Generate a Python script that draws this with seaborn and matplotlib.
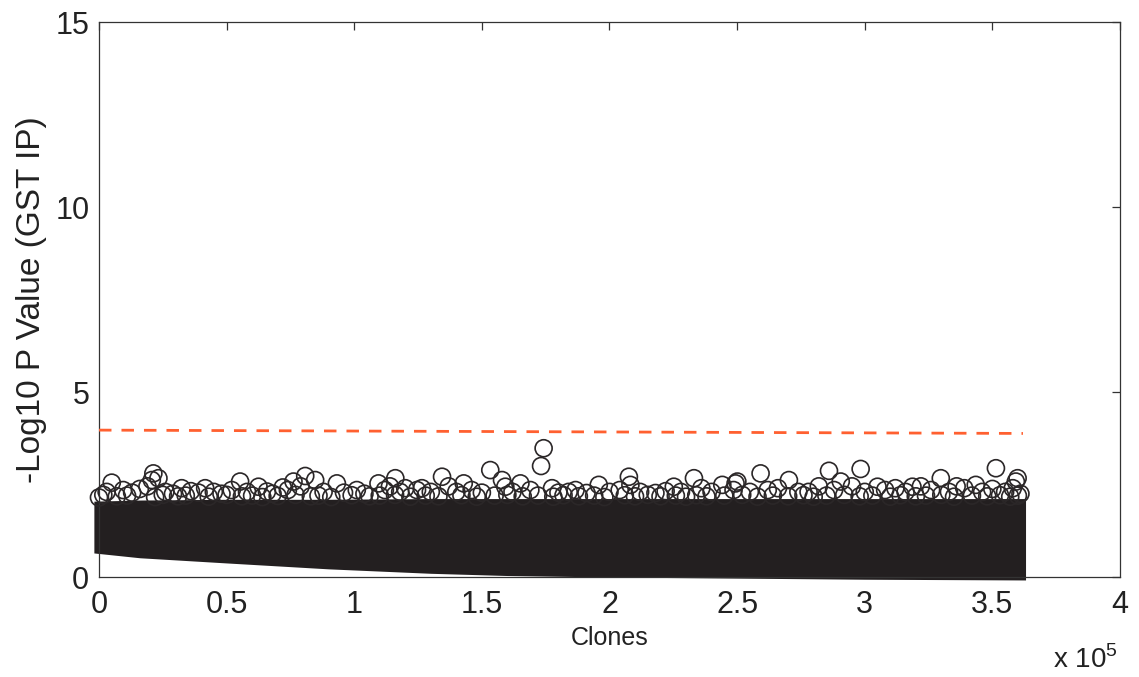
import numpy as np
import pandas as pd
import seaborn as sns
import matplotlib
matplotlib.use("Agg")
import matplotlib.pyplot as plt

# ---- data (x in units of 1e5 clones) ----
# dense band of points: envelope
BAND_X = [-0.02, 0.16, 0.5, 0.9, 1.3, 1.6, 2.0, 2.5, 3.0, 3.63]
BAND_LOW = [0.65, 0.52, 0.38, 0.22, 0.10, 0.04, 0.0, -0.03, -0.06, -0.08]
BAND_TOP = [2.05, 2.08, 2.10, 2.10, 2.12, 2.12, 2.12, 2.12, 2.12, 2.12]

# individual circles visible above the band
FRINGE_X = [
    0.017, 0.05, 0.095, 0.207, 0.213, 0.233, 0.324, 0.416, 0.553, 0.625,
    0.658, 0.762, 0.808, 0.847, 0.932, 1.01, 1.095, 1.161, 1.2, 1.246,
    1.265, 1.344, 1.429, 1.533, 1.579, 1.592, 1.651, 1.732, 1.742, 1.775,
    1.867, 1.958, 2.076, 2.082, 2.252, 2.331, 2.442, 2.486, 2.494, 2.501,
    2.592, 2.703, 2.86, 2.906, 2.984, 3.05, 3.187, 3.298, 3.39, 3.435,
    3.514, 3.592, 3.599,
    0.03, 0.13, 0.16, 0.19, 0.26, 0.29, 0.36, 0.39, 0.45, 0.48,
    0.52, 0.58, 0.68, 0.72, 0.74, 0.79, 0.88, 0.96, 1.04, 1.12,
    1.14, 1.18, 1.3, 1.37, 1.4, 1.46, 1.5, 1.62, 1.69, 1.8,
    1.84, 1.91, 2.0, 2.04, 2.12, 2.18, 2.22, 2.28, 2.36, 2.4,
    2.55, 2.62, 2.66, 2.74, 2.78, 2.82, 2.88, 2.95, 3.0, 3.08,
    3.12, 3.16, 3.22, 3.26, 3.33, 3.36, 3.46, 3.5, 3.55, 3.58,
    3.61,
    0.0, 0.07, 0.11, 0.22, 0.25, 0.31, 0.34, 0.43, 0.5, 0.56,
    0.6, 0.64, 0.7, 0.77, 0.83, 0.86, 0.91, 0.99, 1.06, 1.1,
    1.16, 1.22, 1.28, 1.33, 1.42, 1.48, 1.55, 1.6, 1.66, 1.72,
    1.78, 1.82, 1.88, 1.94, 1.98, 2.06, 2.1, 2.15, 2.2, 2.26,
    2.3, 2.34, 2.38, 2.45, 2.52, 2.58, 2.64, 2.7, 2.76, 2.8,
    2.85, 2.92, 2.98, 3.03, 3.1, 3.14, 3.2, 3.24, 3.3, 3.35,
    3.42, 3.48, 3.53, 3.57, 3.6,
]
FRINGE_Y = [
    2.22, 2.55, 2.35, 2.62, 2.80, 2.67, 2.40, 2.40, 2.58, 2.44,
    2.31, 2.58, 2.73, 2.62, 2.53, 2.35, 2.53, 2.67, 2.40, 2.35,
    2.40, 2.71, 2.53, 2.89, 2.62, 2.44, 2.53, 3.00, 3.48, 2.40,
    2.35, 2.49, 2.71, 2.49, 2.44, 2.67, 2.49, 2.35, 2.53, 2.58,
    2.80, 2.62, 2.87, 2.58, 2.92, 2.44, 2.44, 2.67, 2.40, 2.49,
    2.94, 2.58, 2.67,
    2.30, 2.28, 2.38, 2.45, 2.30, 2.25, 2.32, 2.28, 2.30, 2.25,
    2.35, 2.30, 2.25, 2.42, 2.35, 2.45, 2.30, 2.28, 2.25, 2.35,
    2.45, 2.30, 2.30, 2.45, 2.30, 2.35, 2.28, 2.30, 2.35, 2.28,
    2.30, 2.27, 2.30, 2.35, 2.30, 2.27, 2.32, 2.30, 2.40, 2.30,
    2.30, 2.35, 2.40, 2.30, 2.30, 2.45, 2.35, 2.45, 2.30, 2.35,
    2.40, 2.30, 2.45, 2.35, 2.30, 2.45, 2.30, 2.38, 2.30, 2.40,
    2.25,
    2.15, 2.18, 2.20, 2.16, 2.22, 2.18, 2.20, 2.17, 2.22, 2.18,
    2.20, 2.16, 2.19, 2.22, 2.18, 2.20, 2.16, 2.21, 2.18, 2.20,
    2.22, 2.17, 2.20, 2.18, 2.21, 2.17, 2.20, 2.22, 2.18, 2.20,
    2.17, 2.21, 2.18, 2.20, 2.16, 2.21, 2.18, 2.22, 2.18, 2.20,
    2.17, 2.21, 2.18, 2.20, 2.22, 2.17, 2.20, 2.18, 2.21, 2.17,
    2.20, 2.22, 2.18, 2.20, 2.17, 2.21, 2.18, 2.20, 2.22, 2.17,
    2.20, 2.18, 2.21, 2.17, 2.20,
]

# significance threshold line
THRESH_X = [0.0, 3.62]
THRESH_Y = [3.97, 3.88]

X_TICKS = [0, 0.5, 1, 1.5, 2, 2.5, 3, 3.5, 4]
X_TICKLABELS = ["0", "0.5", "1", "1.5", "2", "2.5", "3", "3.5", "4"]
Y_TICKS = [0, 5, 10, 15]

DOT = "#231f20"
RED = "#ff6030"
TXT = "#222222"

sns.set_theme(style="white")
plt.rcParams["font.family"] = ["Liberation Sans", "DejaVu Sans"]
plt.rcParams["mathtext.fontset"] = "custom"
plt.rcParams["mathtext.rm"] = "Liberation Sans"

fig = plt.figure(figsize=(11.39, 6.77), dpi=100)
ax = fig.add_axes([0.0869, 0.1477, 0.8964, 0.8198])

ax.fill_between(BAND_X, BAND_LOW, BAND_TOP, color=DOT, lw=0, clip_on=False, zorder=2)

df = pd.DataFrame({"x": FRINGE_X, "y": FRINGE_Y})
sns.scatterplot(
    data=df, x="x", y="y", ax=ax,
    marker="o", s=150, facecolors="none", edgecolors="#2b2728",
    linewidth=1.2, clip_on=False, zorder=3, legend=False,
)

ax.plot(THRESH_X, THRESH_Y, color=RED, lw=2.0, linestyle=(0, (4.5, 3.6)), zorder=4)

ax.set_xlim(0, 4)
ax.set_ylim(0, 15)
ax.set_xticks(X_TICKS)
ax.set_xticklabels(X_TICKLABELS)
ax.set_yticks(Y_TICKS)

ax.tick_params(direction="in", length=6, width=0.9, colors="#333333",
               labelcolor=TXT, labelsize=22, top=True, right=True, pad=7)
ax.tick_params(axis="x", pad=9)
for sp in ax.spines.values():
    sp.set_color("#333333")
    sp.set_linewidth(0.9)

ax.set_xlabel("Clones", fontsize=18, color=TXT, labelpad=5)
ax.set_ylabel("-Log10 P Value (GST IP)", fontsize=24, color=TXT, labelpad=6)

fig.text(1118 / 1139, 1 - 660 / 677, r"x 10$^{5}$", ha="right", va="center",
         fontsize=20, color=TXT)

fig.savefig("out.png", dpi=100)
